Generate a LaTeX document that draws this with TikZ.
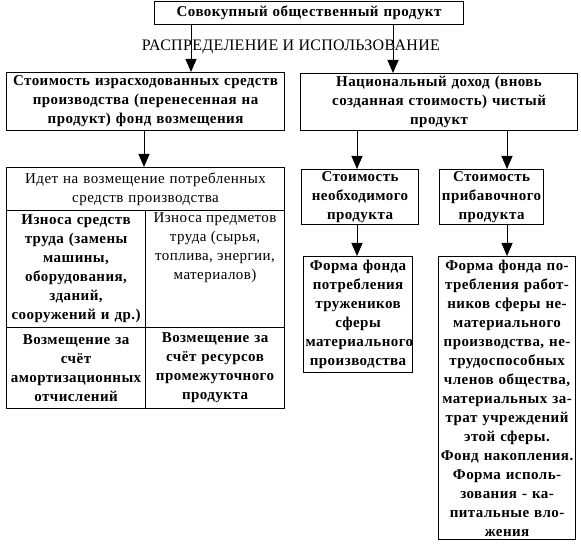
\documentclass[tikz,border=0pt]{standalone}
\usepackage{fontspec}
\setmainfont{Liberation Serif}
\newfontfamily\boxfont[LetterSpace=3]{Liberation Serif}
\newfontfamily\capfont[LetterSpace=2]{Liberation Serif}
\usetikzlibrary{arrows.meta}
\begin{document}
\begin{tikzpicture}[x=1pt,y=-1pt,
  box/.style={draw, line width=1.1pt, inner sep=0pt, anchor=north west, align=center,
    font=\boxfont\bfseries\fontsize{15}{19}\selectfont},
  regbox/.style={box, font=\boxfont\mdseries\fontsize{15}{19}\selectfont},
  arr/.style={line width=1pt, -{Triangle[length=13pt,width=11pt]}},
  caption/.style={font=\capfont\fontsize{16}{18}\selectfont, inner sep=0pt}
]
\useasboundingbox (0,0) rectangle (581,545);

\node[box, minimum width=309pt, minimum height=23pt, text width=305pt] (top) at (154,1) {Совокупный общественный продукт};
\node[caption] (dist) at (291,47) {РАСПРЕДЕЛЕНИЕ И ИСПОЛЬЗОВАНИЕ};

\node[box, minimum width=278pt, minimum height=58pt, text width=274pt] (A) at (6,72)
  {Стоимость израсходованных средств\\производства (перенесенная на\\продукт) фонд возмещения};
\node[box, minimum width=277pt, minimum height=57pt, text width=273pt] (B) at (300,73)
  {Национальный доход (вновь\\созданная стоимость) чистый\\продукт};

\node[regbox, minimum width=278pt, minimum height=43pt, text width=274pt] (C) at (6,167)
  {Идет на возмещение потребленных\\средств производства};
\node[box, minimum width=139pt, minimum height=117pt, text width=135pt] (C1) at (6,210)
  {Износа средств\\труда (замены\\машины,\\оборудования,\\зданий,\\сооружений и др.)};
\node[regbox, minimum width=139pt, minimum height=117pt] (C2) at (145,210)
  {\parbox[c][113pt][t]{135pt}{\centering Износа предметов\\труда (сырья,\\топлива, энергии,\\материалов)}};
\node[box, minimum width=139pt, minimum height=81pt, text width=135pt] (C3) at (6,327)
  {Возмещение за\\счёт\\амортизационных\\отчислений};
\node[box, minimum width=139pt, minimum height=81pt, text width=135pt] (C4) at (145,327)
  {Возмещение за\\счёт ресурсов\\промежуточного\\продукта};

\node[box, minimum width=117pt, minimum height=55pt, text width=113pt] (D) at (301,169)
  {Стоимость\\необходимого\\продукта};
\node[box, minimum width=104pt, minimum height=55pt, text width=100pt] (E) at (439,169)
  {Стоимость\\прибавочного\\продукта};
\node[box, minimum width=109pt, minimum height=116pt, text width=105pt] (F) at (303,256)
  {Форма фонда\\потребления\\тружеников\\сферы\\материального\\производства};
\node[box, minimum width=137pt, minimum height=283pt, text width=133pt] (G) at (438,256)
  {Форма фонда по-\\требления работ-\\ников сферы не-\\материального\\производства, не-\\трудоспособных\\членов общества,\\материальных за-\\трат учреждений\\этой сферы.\\Фонд накопления.\\Форма исполь-\\зования - ка-\\питальные вло-\\жения};

\coordinate (x1) at (191,0);
\coordinate (x2) at (393,0);
\coordinate (x3) at (144,0);
\coordinate (x4) at (357,0);
\coordinate (x5) at (507,0);

\draw[arr] (top.south -| x1) -- (A.north -| x1);
\draw[arr] (top.south -| x2) -- (B.north -| x2);
\draw[arr] (A.south -| x3) -- (C.north -| x3);
\draw[arr] (B.south -| x4) -- (D.north -| x4);
\draw[arr] (B.south -| x5) -- (E.north -| x5);
\draw[arr] (D.south -| x4) -- (F.north -| x4);
\draw[arr] (E.south -| x5) -- (G.north -| x5);
\end{tikzpicture}
\end{document}
